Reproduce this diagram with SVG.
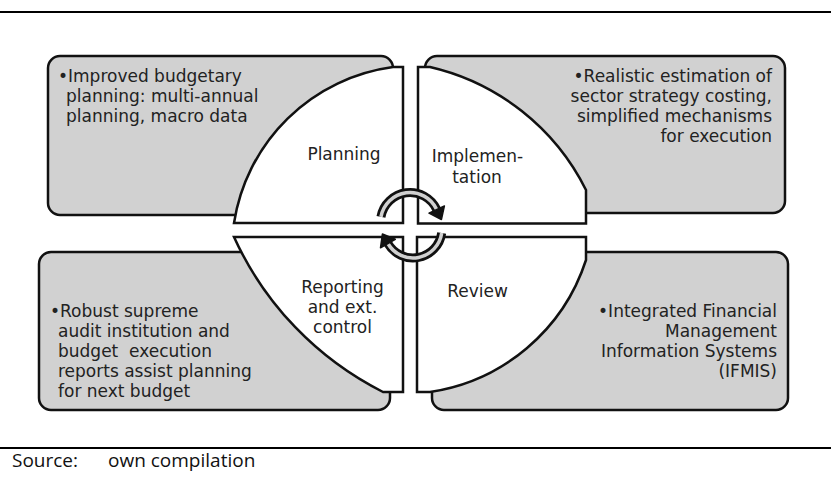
<svg xmlns="http://www.w3.org/2000/svg" width="831" height="485" viewBox="0 0 831 485">
<style>
.box{fill:#d1d1d1;stroke:#111;stroke-width:2.5}
.seg{fill:#fff;stroke:#111;stroke-width:2.5;stroke-linejoin:miter}
.t{font-family:"DejaVu Sans",Verdana,sans-serif;font-size:17px;fill:#222}
.c{text-anchor:middle}
.r{text-anchor:end}
.rule{stroke:#000;stroke-width:2.2}
.src{font-family:"Open Sans",sans-serif;font-size:19px;fill:#111}
.band{fill:none;stroke:#111;stroke-width:9}
.core{fill:none;stroke:#d0d0d0;stroke-width:3.5}
.head{fill:#111;stroke:#111;stroke-width:1.5;stroke-linejoin:round}
</style>
<line class="rule" x1="0" y1="12" x2="831" y2="12"/>
<line class="rule" x1="0" y1="448" x2="831" y2="448"/>

<g id="box-planning-note">
<rect class="box" x="48" y="56" width="345" height="159" rx="12"/>
</g>
<g id="box-implementation-note">
<rect class="box" x="425" y="56" width="360" height="157" rx="12"/>
</g>
<g id="box-reporting-note">
<rect class="box" x="39" y="252" width="351" height="158" rx="12"/>
</g>
<g id="box-review-note">
<rect class="box" x="432" y="252" width="356" height="158" rx="12"/>
</g>

<g id="planning">
<path class="seg" d="M403,67 L393,67 A186,186 0 0 0 234,223 L403,223 Z"/>
<text class="t c" x="344" y="160">Planning</text>
</g>
<g id="implementation">
<path class="seg" d="M418,67 L430,67 A233,233 0 0 1 586,190 L586,223.5 L418,223.5 Z"/>
<text class="t c" x="477.5" y="162">Implemen-</text>
<text class="t c" x="477" y="183">tation</text>
</g>
<g id="reporting">
<path class="seg" d="M234,237 L403,237 L403,392 L383,392 A324,324 0 0 1 234,237 Z"/>
<text class="t c" x="342.5" y="293">Reporting</text>
<text class="t c" x="342.5" y="313">and ext.</text>
<text class="t c" x="342.5" y="333">control</text>
</g>
<g id="review">
<path class="seg" d="M417,237 L586,237 L586,260 A194,194 0 0 1 430,392 L417,392 Z"/>
<text class="t c" x="477.5" y="297">Review</text>
</g>

<g id="note-texts">
<text class="t" x="58" y="82">•Improved budgetary</text>
<text class="t" x="66" y="102">planning: multi-annual</text>
<text class="t" x="66" y="122">planning, macro data</text>

<text class="t r" x="772" y="82">•Realistic estimation of</text>
<text class="t r" x="772" y="102">sector strategy costing,</text>
<text class="t r" x="772" y="122">simplified mechanisms</text>
<text class="t r" x="772" y="142">for execution</text>

<text class="t" x="50" y="317">•Robust supreme</text>
<text class="t" x="58" y="337">audit institution and</text>
<text class="t" x="58" y="357" style="white-space:pre">budget  execution</text>
<text class="t" x="58" y="377">reports assist planning</text>
<text class="t" x="58" y="397">for next budget</text>

<text class="t r" x="777" y="317">•Integrated Financial</text>
<text class="t r" x="777" y="337">Management</text>
<text class="t r" x="777" y="357">Information Systems</text>
<text class="t r" x="777" y="377">(IFMIS)</text>
</g>

<g id="connectors">
<path class="band" d="M380.95,216.88 A29.5,29.5 0 0 1 436.7,209.5"/>
<path class="core" d="M380.95,216.88 A29.5,29.5 0 0 1 436.7,209.5"/>
<polygon class="head" points="444.4,205.9 429,213.1 441.4,219.5"/>
<path class="band" d="M441.7,233 A29,29 0 0 1 387.9,243.5"/>
<path class="core" d="M441.7,233 A29,29 0 0 1 387.9,243.5"/>
<polygon class="head" points="380.5,247.75 395.3,239.25 382.4,234"/>
</g>

<text class="src" x="12" y="467">Source:</text>
<text class="src" x="108" y="467">own compilation</text>
</svg>
